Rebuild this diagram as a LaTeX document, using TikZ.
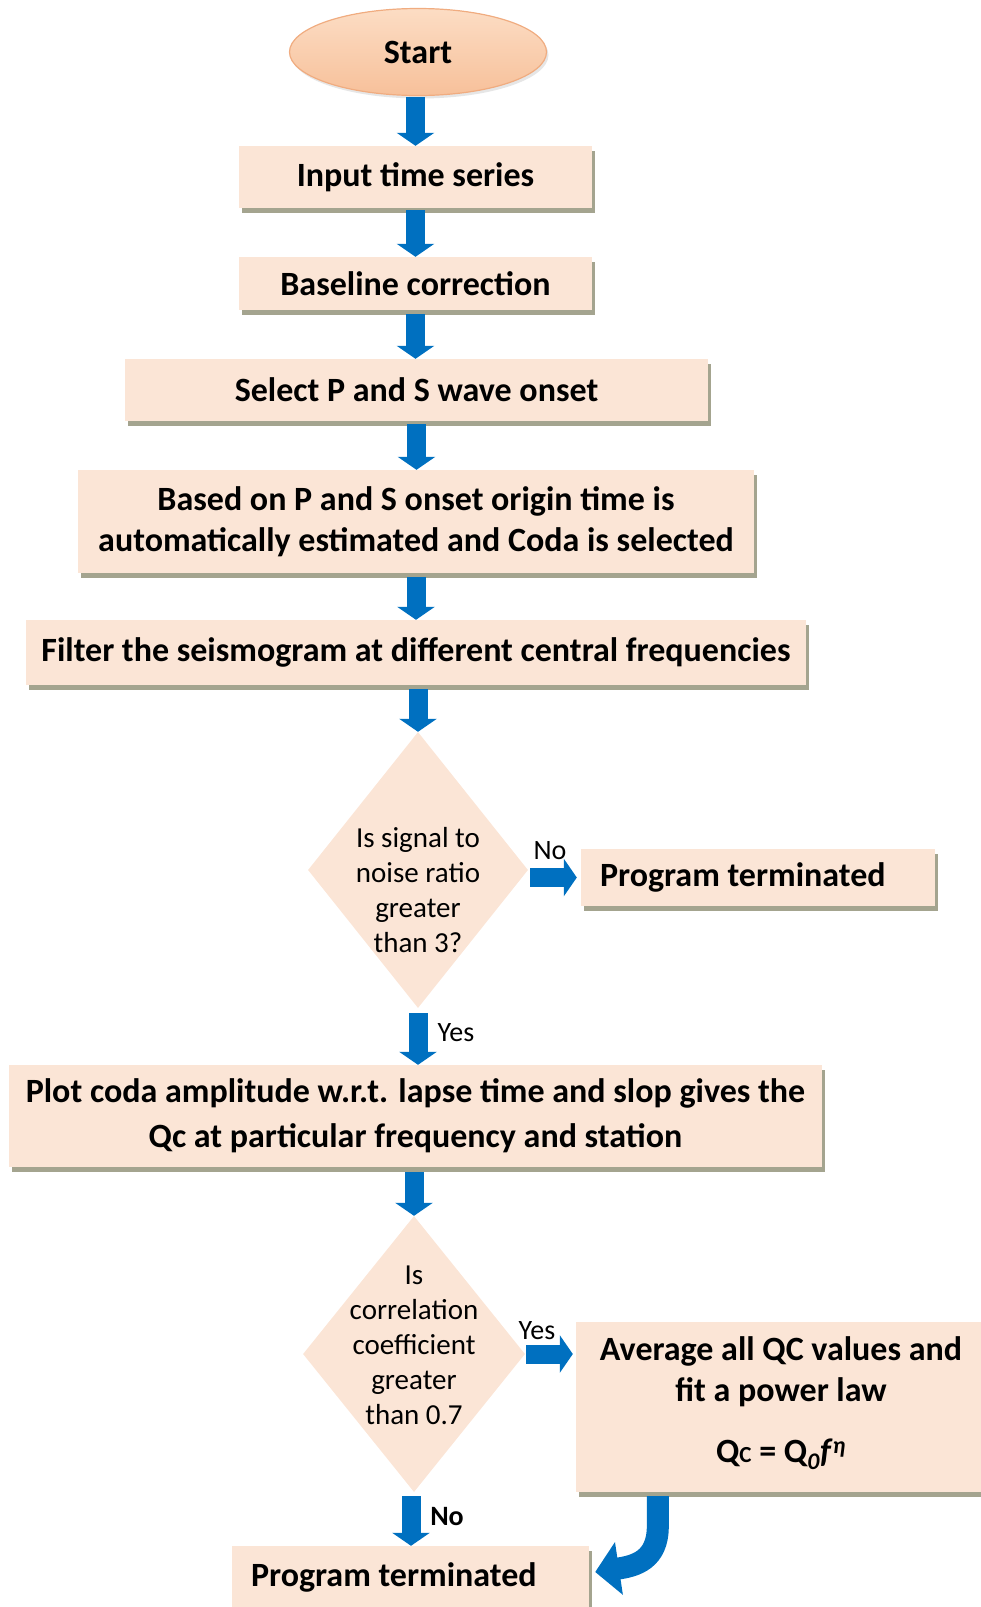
\documentclass[tikz,border=0pt]{standalone}
\usepackage{fontspec}
\setmainfont{Carlito}
\usetikzlibrary{arrows.meta,shapes.geometric,shadows}

\definecolor{boxfill}{HTML}{FBE5D6}
\definecolor{boxshadow}{HTML}{A4A48F}
\definecolor{flowblue}{HTML}{0070C0}
\definecolor{ovaltop}{HTML}{FCDDC4}
\definecolor{ovalbot}{HTML}{F7C09A}
\definecolor{ovaledge}{HTML}{F0AC80}

\begin{document}
\begin{tikzpicture}[x=1pt,y=-1pt,
  boxfont/.style={font=\fontsize{34}{41}\bfseries\selectfont},
  stepbox/.style={fill=boxfill, draw=none, inner sep=0pt, align=center, boxfont,
    drop shadow={shadow xshift=3pt, shadow yshift=-5pt, fill=boxshadow, opacity=1}},
  boxtext/.style={inner sep=0pt, align=center, boxfont},
  startoval/.style={ellipse, inner sep=0pt, minimum width=257pt, minimum height=87pt,
    top color=ovaltop, bottom color=ovalbot, draw=ovaledge, line width=1.2pt, boxfont,
    drop shadow={shadow xshift=2pt, shadow yshift=-3pt, opacity=0.2}},
  decision/.style={diamond, fill=boxfill, draw=none, inner sep=0pt,
    minimum width=220pt, minimum height=276pt},
  qtext/.style={inner sep=0pt, align=center, font=\fontsize{29}{35}\selectfont},
  flowlabel/.style={inner sep=0pt, font=\fontsize{28}{30}\selectfont},
  flowarrow/.style={draw=flowblue, line width=19pt, -{Triangle[width=37pt,length=13pt]}},
  bentarrow/.style={draw=flowblue, line width=22pt, -{Triangle[width=52pt,length=24pt]}}
]
\useasboundingbox (0,0) rectangle (981,1607);

% main column
\node[startoval] (start) at (418,52) {Start};
\node[stepbox, minimum width=353pt, minimum height=62pt] (input) at (415.5,177) {Input time series};
\node[stepbox, minimum width=353pt, minimum height=53pt] (base) at (415.5,283.5) {Baseline correction};
\node[stepbox, minimum width=583pt, minimum height=62pt] (pick) at (416.5,390) {Select P and S wave onset};
\node[stepbox, minimum width=676pt, minimum height=103pt] (coda) at (416,521.5)
  {Based on P and S onset origin time is\\automatically estimated and Coda is selected};
\node[stepbox, minimum width=780pt, minimum height=65pt] (filter) at (416,652.5)
  {Filter the seismogram at different central frequencies};

% signal-to-noise test
\node[decision] (snr) at (418,870) {};
\node[qtext] (snrtext) at (418,890) {Is signal to\\noise ratio\\greater\\than 3?};
\node[stepbox, minimum width=354pt, minimum height=57pt] (stop1) at (758,877.5) {};
\node[boxtext, anchor=west] (stop1text) at ([xshift=19pt]stop1.west) {Program terminated};

% Qc estimate
\node[stepbox, minimum width=813pt, minimum height=102pt] (plot) at (415.5,1116)
  {Plot coda amplitude w.r.t. lapse time and slop gives the\\[4pt]Qc at particular frequency and station};

% correlation test
\node[decision, minimum width=222pt] (corr) at (414,1354) {};
\node[qtext] (corrtext) at (414,1345) {Is\\correlation\\coefficient\\greater\\than 0.7};
\node[stepbox, minimum width=410pt, minimum height=170pt] (avg) at (781,1407) {};
\node[boxtext] (avgtext) at (781,1371.5) {Average all QC values and\\fit a power law};
\node[boxtext] (law) at (781,1454)
  {Q{\fontsize{23}{23}\selectfont C} = Q\textsubscript{\textit{0}}\textit{f}\textsuperscript{\textit{η}}};
\node[stepbox, minimum width=357pt, minimum height=62pt] (stop2) at (410.5,1577) {};
\node[boxtext, anchor=west] (stop2text) at ([xshift=19pt]stop2.west) {Program terminated};

% connectors
\draw[flowarrow] ([yshift=-1pt]start.south -| input.north) -- (input.north);
\draw[flowarrow] ([yshift=-2pt]input.south) -- (input.south |- base.north);
\draw[flowarrow] ([yshift=-4pt]base.south) -- (base.south |- pick.north);
\draw[flowarrow] ([yshift=-3pt]pick.south) -- (pick.south |- coda.north);
\draw[flowarrow] ([yshift=-4pt]coda.south) -- (coda.south |- filter.north);
\draw[flowarrow] ([yshift=-4pt]filter.south -| snr.north) -- (snr.north);
\draw[flowarrow] ([yshift=-5pt]snr.south) -- (snr.south |- plot.north);
\draw[flowarrow] ([yshift=-5pt]plot.south -| corr.north) -- (corr.north);
\draw[flowarrow] ([xshift=-3pt,yshift=-4pt]corr.south) -- ([xshift=-3pt]corr.south |- stop2.north);
\draw[flowarrow, shorten <=2pt, shorten >=4pt] (snr.east |- stop1.west) -- (stop1.west);
\draw[flowarrow, shorten <=1pt, shorten >=3pt] (corr.east) -- (corr.east -| avg.west);
\draw[bentarrow] ([xshift=82pt,yshift=-4pt]avg.south west) -- ++(0,30)
  .. controls +(0,34) and +(40,-6) .. ([xshift=6pt,yshift=5pt]stop2.east);

% branch labels
\node[flowlabel] (nolabel1) at (550,851) {No};
\node[flowlabel] (yeslabel1) at (456,1033) {Yes};
\node[flowlabel] (yeslabel2) at (537,1331) {Yes};
\node[flowlabel, font=\fontsize{28}{30}\bfseries\selectfont] (nolabel2) at (447,1517) {No};
\end{tikzpicture}
\end{document}
